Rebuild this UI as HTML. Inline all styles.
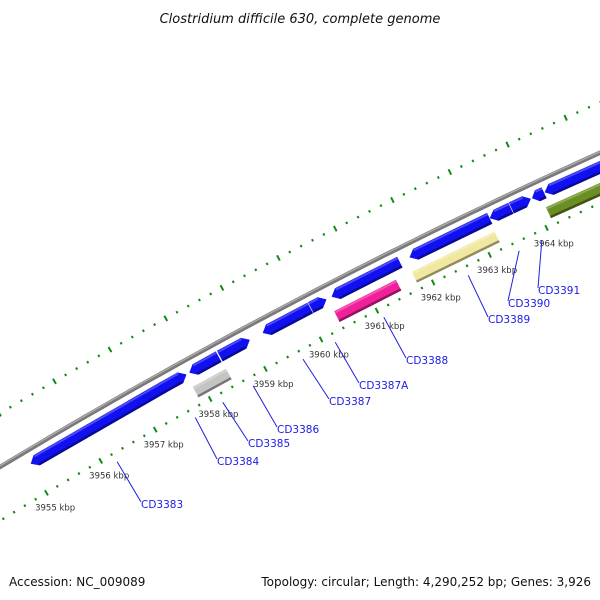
<!DOCTYPE html>
<html><head><meta charset="utf-8"><style>
body{margin:0;background:#fff}
svg{display:block;font-family:"DejaVu Sans","Liberation Sans",sans-serif}
</style></head><body>
<svg id="chart" width="600" height="600" viewBox="0 0 600 600">
<text x="300" y="23" text-anchor="middle" font-size="13" font-style="italic" fill="#111">Clostridium difficile 630, complete genome</text>
<g id="ticks"></g>
<g id="back"></g>
<g id="genes"></g>
<g id="labels"></g>
<text x="9" y="586" font-size="12" fill="#111">Accession: NC_009089</text>
<text x="591" y="586" text-anchor="end" font-size="12" fill="#111">Topology: circular; Length: 4,290,252 bp; Genes: 3,926</text>
</svg>
<script>
// data (kbp)
const geneStarts = [3955.02,3957.41,3957.91,3958.46,3959.23,3960.09,3960.46,3961.84,3963.25,3963.63,3963.99,3964.21, 3957.85,3960.39,3961.77,3964.13];
const geneEnds   = [3957.46,3957.86,3958.44,3959.00,3960.08,3960.37,3961.67,3963.25,3963.62,3963.97,3964.20,3966.50, 3958.45,3961.49,3963.23,3966.50];
const geneRows   = [0,0,0,0,0,0,0,0,0,0,0,0, 1,1,1,1];
const geneColors = ["#1010f0","#1010f0","#1010f0","#1010f0","#1010f0","#1010f0","#1010f0","#1010f0","#1010f0","#1010f0","#1010f0","#1010f0","#c4c4c4","#f0209a","#f0e8a0","#6b8e23"];
const geneArrow  = [-1,1,-1,1,-1,1,-1,-1,-1,1,-1,-1, 0,0,0,0];
const labelNames = ["CD3383","CD3384","CD3385","CD3386","CD3387","CD3387A","CD3388","CD3389","CD3390","CD3391"];
const labelKbp   = [3956.22,3957.65,3958.15,3958.7,3959.6,3960.18,3961.05,3962.55,3963.45,3963.85];
const labelX     = [141,217,248,277,329,359,406,488,508,538];
const labelY     = [508,465,447,433,405,389,364,323,307,294];
const tickLabels = [3955,3956,3957,3958,3959,3960,3961,3962,3963,3964];
const tickMin = 3953.0, tickMax = 3966.4, tickStep = 0.2;

const CX=2954, CY=5378, R=5731;
const A0=-120.76, DEG=0.634;
const NS="http://www.w3.org/2000/svg";
function ang(k){return (A0+(k-3955)*DEG)*Math.PI/180;}
function pos(k,r){const a=ang(k);return [CX+r*Math.cos(a),CY+r*Math.sin(a)];}
function mk(tag,attrs,parent){const e=document.createElementNS(NS,tag);for(const k in attrs)e.setAttribute(k,attrs[k]);parent.appendChild(e);return e;}

// backbone
const back=document.getElementById('back');
const bp=[];for(let k=3952;k<=3967;k+=0.25){const p=pos(k,R);bp.push(p[0].toFixed(1)+','+p[1].toFixed(1));}
let b1=mk('polyline',{points:bp.join(' '),fill:'none',stroke:'#7a7a7a','stroke-width':4.5},back);


const bp2=[];for(let k=3952;k<=3967;k+=0.25){const p=pos(k,R+1);bp2.push(p[0].toFixed(1)+','+p[1].toFixed(1));}
let b2=mk('polyline',{points:bp2.join(' '),fill:'none',stroke:'#b0b0b0','stroke-width':1.2},back);



// ticks
const tg=document.getElementById('ticks');
const n=Math.round((tickMax-tickMin)/tickStep);
for(let i=0;i<=n;i++){
  const k=tickMin+i*tickStep;
  const major=Math.abs(k-Math.round(k))<0.01;
  const len=major?6:2.4;
  [5777,5685].forEach((r,ri)=>{
    const a=pos(k,r-len/2),b=pos(k,r+len/2);
    const l=mk('line',{x1:a[0],y1:a[1],x2:b[0],y2:b[1],stroke:'#138a13','stroke-width':2},tg);
    
    
  });
}
tickLabels.forEach(k=>{
  const p=pos(k,5668);
  const t=mk('text',{x:p[0],y:p[1]+3,'text-anchor':'middle','font-size':8.5,fill:'#333'},tg);
  t.textContent=k+' kbp';
  
  
});

// genes
const gg=document.getElementById('genes');
function shade(c,f){const v=parseInt(c.slice(1),16);let r=v>>16,g=(v>>8)&255,b=v&255;r=Math.round(r*f);g=Math.round(g*f);b=Math.round(b*f);return 'rgb('+r+','+g+','+b+')';}
geneStarts.forEach((s,i)=>{
  const e=geneEnds[i];
  const rin=geneRows[i]?5692:5712, rout=geneRows[i]?5704:5724, rm=(rin+rout)/2;
  const hl=Math.min(0.11,(e-s)*0.45);
  let pts;
  if(geneArrow[i]<0){
    pts=[pos(s,rm),pos(s+hl,rout),pos(e,rout),pos(e,rin),pos(s+hl,rin)];
  }else if(geneArrow[i]>0){
    pts=[pos(s,rout),pos(e-hl,rout),pos(e,rm),pos(e-hl,rin),pos(s,rin)];
  }else{
    pts=[pos(s,rout),pos(e,rout),pos(e,rin),pos(s,rin)];
  }
  const g=mk('polygon',{points:pts.map(p=>p[0].toFixed(1)+','+p[1].toFixed(1)).join(' '),fill:geneColors[i]},gg);
  
  
  const a=pos(s+(geneArrow[i]<0?hl:0),rin+1.2),b=pos(e-(geneArrow[i]>0?hl:0),rin+1.2);
  const sh=mk('line',{x1:a[0],y1:a[1],x2:b[0],y2:b[1],stroke:shade(geneColors[i],0.6),'stroke-width':2.4},gg);
  
  
  const c=pos(s+(geneArrow[i]<0?hl:0),rout-1.5),d=pos(e-(geneArrow[i]>0?hl:0),rout-1.5);
  const hi=mk('line',{x1:c[0],y1:c[1],x2:d[0],y2:d[1],stroke:'rgba(255,255,255,0.25)','stroke-width':2},gg);
  
  
});

// labels
const lg=document.getElementById('labels');
labelNames.forEach((nm,i)=>{
  const p=pos(labelKbp[i],5676);
  const l=mk('line',{x1:p[0],y1:p[1],x2:labelX[i],y2:labelY[i]-6,stroke:'#2020e0','stroke-width':1},lg);
  
  
  const t=mk('text',{x:labelX[i],y:labelY[i],'font-size':10.5,fill:'#1a1ae6'},lg);
  t.textContent=nm;
  
  
});
</script>
</body></html>
